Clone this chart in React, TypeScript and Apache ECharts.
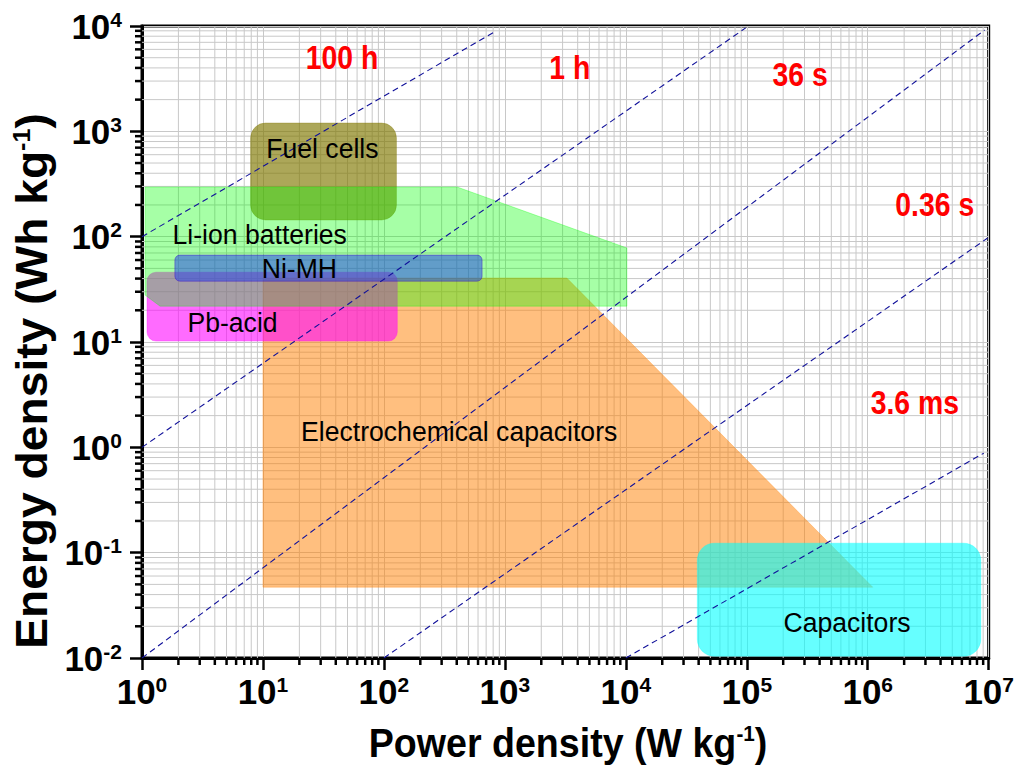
import React, { useEffect, useRef } from "react";
import * as echarts from "echarts";

// ---------- data ----------
const xExponents = [0, 1, 2, 3, 4, 5, 6, 7];
const yExponents = [-2, -1, 0, 1, 2, 3, 4];
const minorMultipliers = [2, 3, 4, 5, 6, 7, 8, 9];

// rounded-rectangle regions: [Pmin, Pmax], [Emin, Emax]
const fuelCellsP = [7.9, 127];
const fuelCellsE = [144, 1200];
const niMhP = [1.87, 648];
const niMhE = [37.8, 66.8];
const pbAcidP = [1.1, 129];
const pbAcidE = [10.2, 46];
const capacitorsP = [3.9e4, 8.6e6];
const capacitorsE = [0.0104, 0.123];

// polygon regions
const liIonP = [1.06, 403, 10200, 10200, 1.41, 1.06];
const liIonE = [296, 296, 78, 21.9, 21.9, 27.9];
const ecP = [10, 3250, 1.1e6, 10];
const ecE = [40.5, 40.5, 0.047, 0.047];

// dashed constant-time lines
const lineStartP = [1, 1, 1, 100, 1e4];
const lineStartE = [100, 1, 0.01, 0.01, 0.01];
const lineEndP = [845, 9.8e4, 9.25e6, 9.8e6, 9.1e6];
const lineEndE = [8970, 9600, 9150, 97, 0.88];

// labels
const regionLabels = ["Fuel cells", "Li-ion batteries", "Ni-MH", "Pb-acid", "Electrochemical capacitors", "Capacitors"];
const regionLabelP = [31, 9.4, 20, 5.6, 419, 6.74e5];
const regionLabelE = [693, 106, 50, 15.5, 1.43, 0.0219];
const timeLabels = ["100 h", "1 h", "36 s", "0.36 s", "3.6 ms"];
const timeLabelP = [45, 3440, 2.76e5, 3.58e6, 2.45e6];
const timeLabelE = [4960, 3990, 3430, 200, 2.63];

const X_MIN = 1, X_MAX = 1e7, Y_MIN = 0.01, Y_MAX = 1e4;
const FONT = "'Liberation Sans', Arial, Helvetica, sans-serif";

const minorX: number[] = [];
xExponents.slice(0, -1).forEach((e) => minorMultipliers.forEach((m) => minorX.push(m * Math.pow(10, e))));
const minorY: number[] = [];
yExponents.slice(0, -1).forEach((e) => minorMultipliers.forEach((m) => minorY.push(m * Math.pow(10, e))));

function roundRect(name: string, P: number[], E: number[], fill: string, stroke: string, r: number) {
  return {
    type: "custom",
    name,
    silent: true,
    clip: true,
    z: 3,
    data: [[P[0], E[0], P[1], E[1]]],
    encode: { x: [0, 2], y: [1, 3] },
    renderItem: (_p: any, api: any) => {
      const a = api.coord([api.value(0), api.value(3)]);
      const b = api.coord([api.value(2), api.value(1)]);
      return {
        type: "rect",
        shape: { x: a[0], y: a[1], width: b[0] - a[0], height: b[1] - a[1], r },
        style: { fill, stroke, lineWidth: 1 },
      };
    },
  };
}

function polygonSeries(name: string, P: number[], E: number[], fill: string, stroke: string) {
  return {
    type: "custom",
    name,
    silent: true,
    clip: true,
    z: 3,
    data: P.map((p, i) => [p, E[i]]),
    encode: { x: 0, y: 1 },
    renderItem: (params: any, api: any) => {
      if (params.dataIndex !== 0) return null;
      const pts = P.map((p, i) => api.coord([p, E[i]]));
      return { type: "polygon", shape: { points: pts }, style: { fill, stroke, lineWidth: 1 } };
    },
  };
}

function textSeries(names: string[], P: number[], E: number[], color: string, size: number, weight: string, sx: number) {
  return {
    type: "custom",
    silent: true,
    clip: false,
    z: 6,
    data: P.map((p, i) => [p, E[i]]),
    encode: { x: 0, y: 1 },
    renderItem: (params: any, api: any) => {
      const c = api.coord([api.value(0), api.value(1)]);
      return {
        type: "text",
        x: c[0],
        y: c[1],
        scaleX: sx,
        style: {
          text: names[params.dataIndex],
          fill: color,
          fontSize: size,
          fontWeight: weight,
          fontFamily: FONT,
          align: "center",
          verticalAlign: "middle",
        },
      };
    },
  };
}

function tickLabelFormatter(v: number) {
  const e = Math.round(Math.log10(v));
  return `{b|10}{s|${e}}`;
}

const tickRich = {
  b: { fontSize: 35, fontWeight: "bold", fontFamily: FONT, color: "#000", lineHeight: 35 },
  s: { fontSize: 21, fontWeight: "bold", fontFamily: FONT, color: "#000", verticalAlign: "top", lineHeight: 35 },
};

export default function App() {
  const ref = useRef<HTMLDivElement>(null);
  useEffect(() => {
    if (!ref.current) return;
    const chart = echarts.init(ref.current, null, { renderer: "svg" });
    const gridColor = "#c8c8c8";

    const option: any = {
      animation: false,
      backgroundColor: "#ffffff",
      grid: { left: 142, right: 26, top: 26, bottom: 107, show: true, borderColor: "#000", borderWidth: 3, backgroundColor: "transparent" },
      xAxis: {
        type: "log",
        logBase: 10,
        min: X_MIN,
        max: X_MAX,
        axisLine: { show: true, lineStyle: { color: "#000", width: 3 } },
        axisTick: { show: true, inside: false, length: 12, lineStyle: { color: "#000", width: 2.5 } },
        axisLabel: { interval: 0, margin: 16, formatter: tickLabelFormatter, rich: tickRich },
        splitLine: { show: true, lineStyle: { color: gridColor, width: 1 } },
        minorTick: { show: false },
      },
      yAxis: {
        type: "log",
        logBase: 10,
        min: Y_MIN,
        max: Y_MAX,
        axisLine: { show: true, lineStyle: { color: "#000", width: 3 } },
        axisTick: { show: true, inside: false, length: 12, lineStyle: { color: "#000", width: 2.5 } },
        axisLabel: { interval: 0, margin: 20, formatter: tickLabelFormatter, rich: tickRich },
        splitLine: { show: true, lineStyle: { color: gridColor, width: 1 } },
        minorTick: { show: false },
      },
      graphic: [
        {
          type: "text",
          x: 568,
          y: 743,
          scaleX: 0.94,
          style: {
            text: "{t|Power density (W kg}{s|-1}{t|)}",
            align: "center",
            verticalAlign: "middle",
            rich: {
              t: { fontSize: 40, fontWeight: "bold", fontFamily: FONT, fill: "#000", lineHeight: 40 },
              s: { fontSize: 22, fontWeight: "bold", fontFamily: FONT, fill: "#000", verticalAlign: "top", lineHeight: 40 },
            },
          },
        },
        {
          type: "text",
          x: 32,
          y: 381,
          rotation: Math.PI / 2,
          scaleX: 1.05,
          style: {
            text: "{t|Energy density (Wh kg}{s|-1}{t|)}",
            align: "center",
            verticalAlign: "middle",
            rich: {
              t: { fontSize: 44, fontWeight: "bold", fontFamily: FONT, fill: "#000", lineHeight: 44 },
              s: { fontSize: 24, fontWeight: "bold", fontFamily: FONT, fill: "#000", verticalAlign: "top", lineHeight: 44 },
            },
          },
        },
      ],
      series: [
        {
          type: "custom",
          silent: true,
          clip: true,
          z: 1,
          data: minorX.map((v) => [v, Y_MIN]),
          encode: { x: 0, y: 1 },
          renderItem: (_p: any, api: any) => {
            const a = api.coord([api.value(0), Y_MIN]);
            const b = api.coord([api.value(0), Y_MAX]);
            return { type: "line", shape: { x1: a[0], y1: a[1], x2: b[0], y2: b[1] }, style: { stroke: gridColor, lineWidth: 1 } };
          },
        },
        {
          type: "custom",
          silent: true,
          clip: true,
          z: 1,
          data: minorY.map((v) => [X_MIN, v]),
          encode: { x: 0, y: 1 },
          renderItem: (_p: any, api: any) => {
            const a = api.coord([X_MIN, api.value(1)]);
            const b = api.coord([X_MAX, api.value(1)]);
            return { type: "line", shape: { x1: a[0], y1: a[1], x2: b[0], y2: b[1] }, style: { stroke: gridColor, lineWidth: 1 } };
          },
        },
        polygonSeries("Electrochemical capacitors", ecP, ecE, "rgba(255,128,0,0.5)", "rgba(255,128,0,0.3)"),
        roundRect("Pb-acid", pbAcidP, pbAcidE, "rgba(255,0,255,0.58)", "rgba(255,0,255,0.3)", 9),
        roundRect("Fuel cells", fuelCellsP, fuelCellsE, "rgba(128,120,0,0.65)", "rgba(128,120,0,0.3)", 15),
        polygonSeries("Li-ion batteries", liIonP, liIonE, "rgba(0,255,0,0.35)", "rgba(0,255,0,0.3)"),
        roundRect("Ni-MH", niMhP, niMhE, "rgba(30,60,235,0.5)", "rgba(60,0,200,0.4)", 5),
        roundRect("Capacitors", capacitorsP, capacitorsE, "rgba(0,255,255,0.6)", "rgba(0,255,255,0.3)", 17),
        ...lineStartP.map((p, i) => ({
          type: "line",
          silent: true,
          z: 4,
          symbol: "none",
          data: [
            [p, lineStartE[i]],
            [lineEndP[i], lineEndE[i]],
          ],
          lineStyle: { color: "#10109a", width: 1.1, type: [6, 4] },
        })),
        textSeries(regionLabels, regionLabelP, regionLabelE, "#000", 28, "normal", 0.95),
        textSeries(timeLabels, timeLabelP, timeLabelE, "#ff0000", 33, "bold", 0.86),
        {
          type: "custom",
          silent: true,
          clip: false,
          z: 7,
          data: minorX.map((v) => [v, Y_MIN]),
          encode: { x: 0, y: 1 },
          renderItem: (_p: any, api: any) => {
            const a = api.coord([api.value(0), Y_MIN]);
            return { type: "line", shape: { x1: a[0], y1: a[1], x2: a[0], y2: a[1] + 7 }, style: { stroke: "#000", lineWidth: 2.5 } };
          },
        },
        {
          type: "custom",
          silent: true,
          clip: false,
          z: 7,
          data: minorY.map((v) => [X_MIN, v]),
          encode: { x: 0, y: 1 },
          renderItem: (_p: any, api: any) => {
            const a = api.coord([X_MIN, api.value(1)]);
            return { type: "line", shape: { x1: a[0], y1: a[1], x2: a[0] - 7, y2: a[1] }, style: { stroke: "#000", lineWidth: 2.5 } };
          },
        },
      ],
    };
    chart.setOption(option);
    return () => chart.dispose();
  }, []);
  return <div ref={ref} style={{ position: "fixed", left: 0, top: 0, width: 1017, height: 765 }} />;
}
